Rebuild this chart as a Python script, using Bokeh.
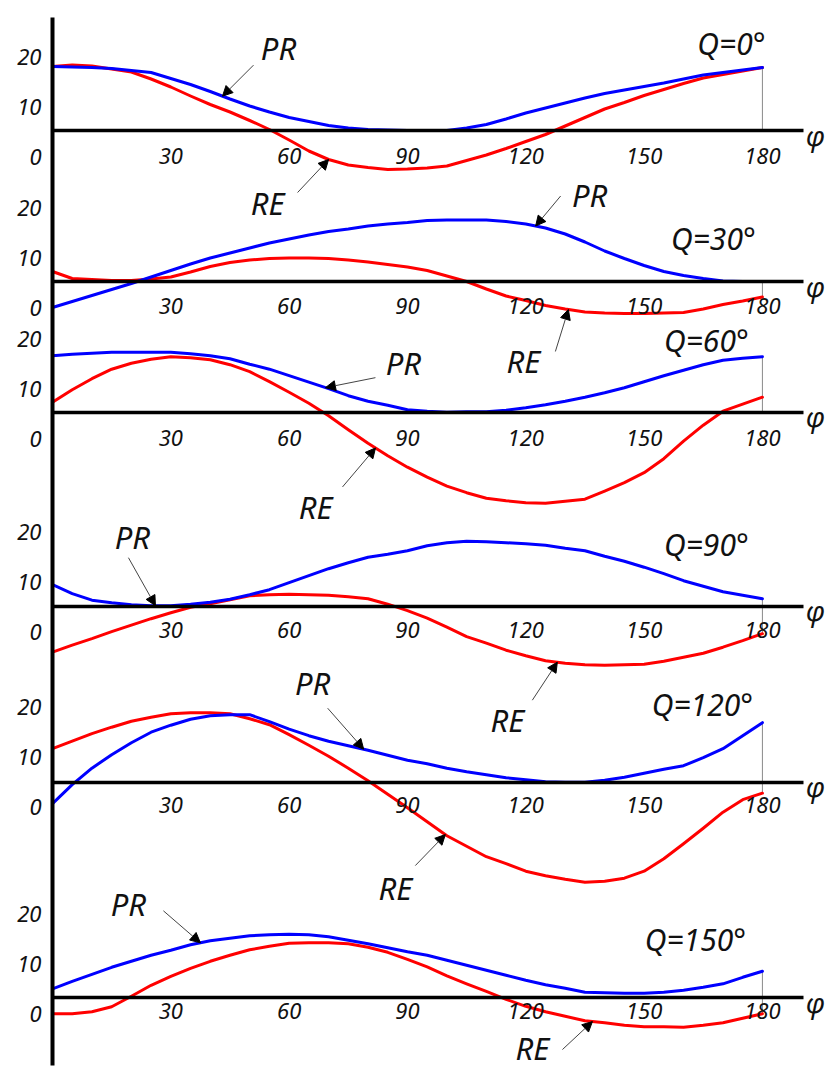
import numpy as np
from bokeh.plotting import figure
from bokeh.models import Range1d, LinearAxis, FixedTicker, Arrow, NormalHead, Label
from bokeh.embed import file_html
from bokeh.resources import INLINE

# ---------------- data ----------------
phi = list(range(0, 181, 5))
q_labels = ["Q=0°", "Q=30°", "Q=60°", "Q=90°", "Q=120°", "Q=150°"]

pr_q0 = [12.8, 12.7, 12.6, 12.4, 12.0, 11.6, 10.4, 9.2, 7.8, 6.3, 4.9, 3.7, 2.6, 1.8, 1.0, 0.5, 0.2, 0.1, 0.0,
         0.0, 0.0, 0.5, 1.2, 2.3, 3.5, 4.5, 5.5, 6.5, 7.4, 8.1, 8.8, 9.5, 10.3, 11.1, 11.6, 12.1, 12.6]
re_q0 = [12.8, 13.1, 12.9, 12.3, 11.7, 10.3, 8.7, 6.9, 5.2, 3.7, 2.0, 0.2, -1.9, -4.1, -5.8, -6.9, -7.4, -7.8, -7.7,
         -7.5, -7.1, -6.0, -4.9, -3.6, -2.2, -0.8, 0.9, 2.6, 4.3, 5.6, 7.0, 8.2, 9.4, 10.5, 11.2, 11.9, 12.6]

pr_q30 = [-5.2, -4.0, -2.8, -1.6, -0.4, 0.9, 2.2, 3.5, 4.7, 5.7, 6.7, 7.7, 8.5, 9.3, 10.0, 10.5, 11.1, 11.5, 11.8,
          12.2, 12.3, 12.3, 12.3, 12.0, 11.5, 10.7, 9.5, 7.9, 6.1, 4.6, 3.2, 2.0, 1.2, 0.6, 0.1, 0.0, 0.0]
re_q30 = [2.0, 0.6, 0.4, 0.2, 0.2, 0.5, 0.9, 1.9, 3.0, 3.8, 4.3, 4.6, 4.7, 4.7, 4.6, 4.3, 3.9, 3.4, 2.9,
          2.2, 1.1, 0.0, -1.5, -2.9, -3.8, -4.8, -5.5, -6.1, -6.3, -6.4, -6.4, -6.3, -6.2, -5.5, -4.6, -3.9, -3.1]

pr_q60 = [11.3, 11.6, 11.8, 12.0, 12.0, 12.0, 12.0, 11.7, 11.3, 10.7, 9.6, 8.6, 7.3, 6.0, 4.7, 3.3, 2.2, 1.4, 0.5,
          0.2, 0.0, 0.1, 0.1, 0.4, 0.9, 1.5, 2.2, 3.0, 3.9, 4.9, 6.1, 7.3, 8.4, 9.5, 10.4, 10.8, 11.1]
re_q60 = [2.0, 4.5, 6.7, 8.6, 9.8, 10.6, 11.1, 10.9, 10.5, 9.5, 8.1, 6.1, 4.0, 1.8, -0.7, -3.5, -6.2, -8.7, -11.0,
          -13.0, -14.8, -16.1, -17.2, -17.7, -18.1, -18.2, -17.8, -17.4, -15.8, -14.1, -12.1, -9.3, -5.8, -2.6, 0.2, 1.6, 3.0]

pr_q90 = [4.3, 2.5, 1.2, 0.7, 0.3, 0.1, 0.1, 0.4, 0.8, 1.4, 2.3, 3.3, 4.7, 6.1, 7.5, 8.7, 9.8, 10.4, 11.1,
          12.1, 12.7, 13.0, 12.9, 12.7, 12.5, 12.2, 11.6, 11.1, 10.0, 9.0, 7.8, 6.5, 5.1, 4.0, 2.9, 2.2, 1.5]
re_q90 = [-9.2, -7.8, -6.5, -5.1, -3.8, -2.5, -1.3, -0.2, 0.5, 1.3, 2.1, 2.3, 2.4, 2.3, 2.2, 1.9, 1.5, 0.4, -0.9,
          -2.4, -4.2, -6.1, -7.4, -8.8, -9.9, -10.9, -11.4, -11.7, -11.8, -11.7, -11.6, -11.0, -10.2, -9.4, -8.2, -6.9, -5.5]

pr_q120 = [-4.3, -0.5, 2.8, 5.5, 7.9, 10.0, 11.4, 12.6, 13.3, 13.5, 13.5, 12.1, 10.6, 9.3, 8.2, 7.3, 6.4, 5.4, 4.4,
           3.7, 2.8, 2.1, 1.5, 0.9, 0.5, 0.1, 0.0, 0.0, 0.4, 1.0, 1.8, 2.6, 3.3, 4.9, 6.7, 9.3, 11.9]
re_q120 = [6.7, 8.2, 9.7, 11.0, 12.2, 13.0, 13.7, 13.9, 13.9, 13.7, 12.7, 11.5, 9.5, 7.4, 5.2, 2.8, 0.3, -2.4, -5.1,
           -7.9, -10.7, -12.8, -14.9, -16.3, -17.8, -18.7, -19.4, -20.0, -19.8, -19.2, -17.8, -15.3, -12.3, -9.2, -6.0, -3.5, -2.2]

pr_q150 = [1.8, 3.3, 4.7, 6.1, 7.3, 8.5, 9.5, 10.6, 11.4, 11.9, 12.4, 12.6, 12.7, 12.6, 12.2, 11.5, 10.8, 10.0, 9.2,
           8.5, 7.5, 6.5, 5.5, 4.5, 3.5, 2.6, 1.9, 1.1, 1.0, 0.9, 0.9, 1.1, 1.5, 2.1, 2.8, 4.1, 5.3]
re_q150 = [-3.2, -3.2, -2.8, -1.8, 0.3, 2.5, 4.3, 5.9, 7.3, 8.5, 9.6, 10.3, 10.9, 11.0, 11.0, 10.8, 10.1, 9.1, 7.7,
           6.2, 4.4, 2.8, 1.3, -0.3, -1.7, -2.8, -3.7, -4.6, -5.0, -5.5, -5.8, -5.8, -5.9, -5.5, -5.0, -4.1, -3.2]

pr_series = [pr_q0, pr_q30, pr_q60, pr_q90, pr_q120, pr_q150]
re_series = [re_q0, re_q30, re_q60, re_q90, re_q120, re_q150]

x_ticks = [30, 60, 90, 120, 150, 180]
y_ticks = [0, 10, 20]

# ---------------- layout / style ----------------
W, H = 825, 1075
LEFT = 52
PX_DEG = 3.944          # px per degree
PX_UNIT = 5.0           # px per value unit
base_px = [130, 281, 411.7, 605.7, 781.7, 997.3]   # baseline rows, px from top
bases = [(H - b) / PX_UNIT for b in base_px]
ylab_drop = [26, 26, 27, 26, 25, 16]
xlab_standoff = [17, 16, 18, 16, 15, 5]
FONT = "Noto Sans"
BLUE = "#0000ff"
RED = "#ff0000"
INK = "#111111"

# annotation layout: panel, text, series, phi at arrow tip, tail offset px, text offset px (dx, dy down)
ann = [
    (0, "PR", "pr", 43.1, (31, -31), (56, -48)),
    (0, "RE", "re", 70.0, (-31, 33), (-61, 43)),
    (1, "PR", "pr", 122.5, (25, -30), (54, -31)),
    (1, "RE", "re", 130.8, (-13, 42), (-45, 52)),
    (2, "PR", "pr", 69.2, (50, -10), (78, -25)),
    (2, "RE", "re", 81.9, (-33, 39), (-60, 59)),
    (3, "PR", "pr", 26.1, (-27, -48), (-23, -69)),
    (3, "RE", "re", 128.0, (-25, 38), (-50, 58)),
    (4, "PR", "pr", 78.9, (-36, -41), (-51, -66)),
    (4, "RE", "re", 99.6, (-30, 31), (-50, 53)),
    (5, "PR", "pr", 37.5, (-37, -32), (-72, -39)),
    (5, "RE", "re", 136.9, (-30, 28), (-60, 26)),
]
q_offsets = [(-31, -87), (-49, -43), (-56, -72), (-56, -62), (-60, -78), (-67, -58)]

p = figure(width=W, height=H,
           x_range=Range1d(0, (W - LEFT) / PX_DEG), y_range=Range1d(0, H / PX_UNIT),
           output_backend="svg", toolbar_location=None,
           x_axis_location=None, y_axis_location=None,
           min_border_left=LEFT, min_border_right=0, min_border_top=0, min_border_bottom=0)
p.grid.visible = False
p.outline_line_color = None
p.background_fill_color = "white"
p.border_fill_color = "white"

# vertical value axis with per-panel labels
ytick_vals = []
overrides = {}
for k, b in enumerate(bases):
    for v in y_ticks:
        t = round(b + v - ylab_drop[k] / PX_UNIT, 4)
        ytick_vals.append(t)
        overrides[t] = str(v)
yaxis = LinearAxis(ticker=FixedTicker(ticks=ytick_vals), major_label_overrides=overrides,
                   bounds=((H - 1065) / PX_UNIT, (H - 17) / PX_UNIT),
                   axis_line_width=4, axis_line_color="black",
                   major_tick_line_color=None, minor_tick_line_color=None,
                   major_tick_in=0, major_tick_out=0, major_label_standoff=11,
                   major_label_text_font=FONT, major_label_text_font_style="italic",
                   major_label_text_font_size="22px", major_label_text_color=INK)
p.add_layout(yaxis, "left")

# phi axes, one per panel
for k, b in enumerate(bases):
    ax = LinearAxis(fixed_location=b, ticker=FixedTicker(ticks=x_ticks), bounds=(0, 190.4),
                    axis_line_width=3.5, axis_line_color="black",
                    major_tick_line_color=None, minor_tick_line_color=None,
                    major_tick_in=0, major_tick_out=0, major_label_standoff=xlab_standoff[k],
                    major_label_text_font=FONT, major_label_text_font_style="italic",
                    major_label_text_font_size="22px", major_label_text_color=INK)
    p.add_layout(ax, "below")

# curves
for k, b in enumerate(bases):
    pr = np.array(pr_series[k]) + b
    re = np.array(re_series[k]) + b
    ends = [0.0, pr_series[k][-1], re_series[k][-1]]
    p.segment(x0=[phi[-1]], y0=[b + min(ends)], x1=[phi[-1]], y1=[b + max(ends)],
              line_color="#8a8a8a", line_width=1)
    p.line(phi, re, line_color=RED, line_width=3, line_join="round", line_cap="round")
    p.line(phi, pr, line_color=BLUE, line_width=3, line_join="round", line_cap="round")

    qx = phi[-1] + q_offsets[k][0] / PX_DEG
    qy = b - q_offsets[k][1] / PX_UNIT
    p.add_layout(Label(x=qx, y=qy, text=q_labels[k], text_align="center", text_baseline="middle",
                       text_font=FONT, text_font_style="italic", text_font_size="30px",
                       text_color=INK))
    p.add_layout(Label(x=phi[-1] + 53 / PX_DEG, y=b - 4 / PX_UNIT, text="φ", text_align="center",
                       text_baseline="middle", text_font=FONT, text_font_style="italic",
                       text_font_size="28px", text_color=INK))

# arrows and curve names
for k, name, ser, ph, tail, toff in ann:
    vals = pr_series[k] if ser == "pr" else re_series[k]
    tx = ph
    ty = bases[k] + float(np.interp(ph, phi, vals))
    sx = tx + tail[0] / PX_DEG
    sy = ty - tail[1] / PX_UNIT
    p.add_layout(Arrow(x_start=sx, y_start=sy, x_end=tx, y_end=ty,
                       line_color="#444444", line_width=1,
                       end=NormalHead(size=10, fill_color="black", line_color="black", line_width=1)))
    p.add_layout(Label(x=tx + toff[0] / PX_DEG, y=ty - toff[1] / PX_UNIT, text=name,
                       text_align="center", text_baseline="middle",
                       text_font=FONT, text_font_style="italic", text_font_size="31px",
                       text_color=INK))

open("out.html", "w").write(file_html(p, INLINE))
